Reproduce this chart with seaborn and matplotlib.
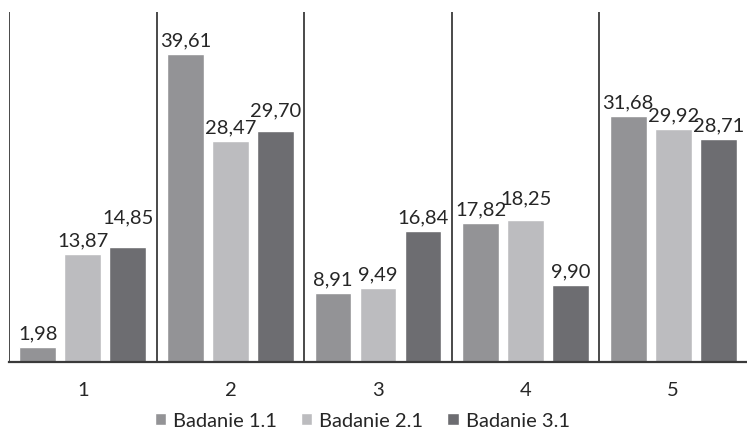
import matplotlib
matplotlib.use("Agg")
import matplotlib.pyplot as plt
import seaborn as sns
import pandas as pd

# Group labels and values for each study
categories = ["1", "2", "3", "4", "5"]
series_names = ["Badanie 1.1", "Badanie 2.1", "Badanie 3.1"]
badanie_1 = [1.98, 39.61, 8.91, 17.82, 31.68]
badanie_2 = [13.87, 28.47, 9.49, 18.25, 29.92]
badanie_3 = [14.85, 29.70, 16.84, 9.90, 28.71]
colors = ["#939396", "#bcbcbf", "#6d6d71"]

rows = []
for name, vals in zip(series_names, [badanie_1, badanie_2, badanie_3]):
    for cat, v in zip(categories, vals):
        rows.append({"grupa": cat, "seria": name, "wartosc": v})
df = pd.DataFrame(rows)

sns.set_theme(style="white")
plt.rcParams["font.family"] = ["Lato", "DejaVu Sans"]
FS = 14.5
TXT = "#262626"

fig = plt.figure(figsize=(7.47, 4.31), dpi=100)
ax = fig.add_axes([9 / 747, 1 - 363 / 431, 1 - 9 / 747, 350 / 431])

sns.barplot(data=df, x="grupa", y="wartosc", hue="seria", order=categories,
            hue_order=series_names, palette=colors, errorbar=None,
            width=0.915, gap=0.18, saturation=1, ax=ax)

ax.set_ylim(0, 45)
ax.set_xlim(-0.5, len(categories) - 0.5)

# Separators between the groups
for i in range(len(categories)):
    ax.axvline(i - 0.5, color="#3a3a3a", lw=1.3, zorder=0.5)

# Label offsets (points); a few labels sit higher so they clear their neighbours
label_pad = [
    [4, 4, 4, 4, 4],
    [4, 4, 4, 10, 4],
    [15, 9, 4, 4, 4],
]
for c, pads in zip(ax.containers, label_pad):
    texts = ax.bar_label(c, labels=[f"{v:.2f}".replace(".", ",") for v in c.datavalues],
                         padding=4, fontsize=FS, color=TXT)
    for t, p in zip(texts, pads):
        t.xyann = (0, p)

for s in ["left", "right", "top"]:
    ax.spines[s].set_visible(False)
ax.spines["bottom"].set_color("#3a3a3a")
ax.spines["bottom"].set_linewidth(1.6)

ax.set_yticks([])
ax.set_xlabel("")
ax.set_ylabel("")
ax.tick_params(axis="x", length=0, pad=14, labelsize=FS, labelcolor=TXT)

handles, labels = ax.get_legend_handles_labels()
ax.get_legend().remove()
fig.legend(handles, labels, loc="lower center", bbox_to_anchor=(0.485, 0.002), ncol=3,
           frameon=False, fontsize=FS, handlelength=0.55, handleheight=0.55,
           handletextpad=0.35, columnspacing=1.2, labelcolor=TXT,
           borderaxespad=0, borderpad=0)

fig.savefig("out.png", dpi=100)
